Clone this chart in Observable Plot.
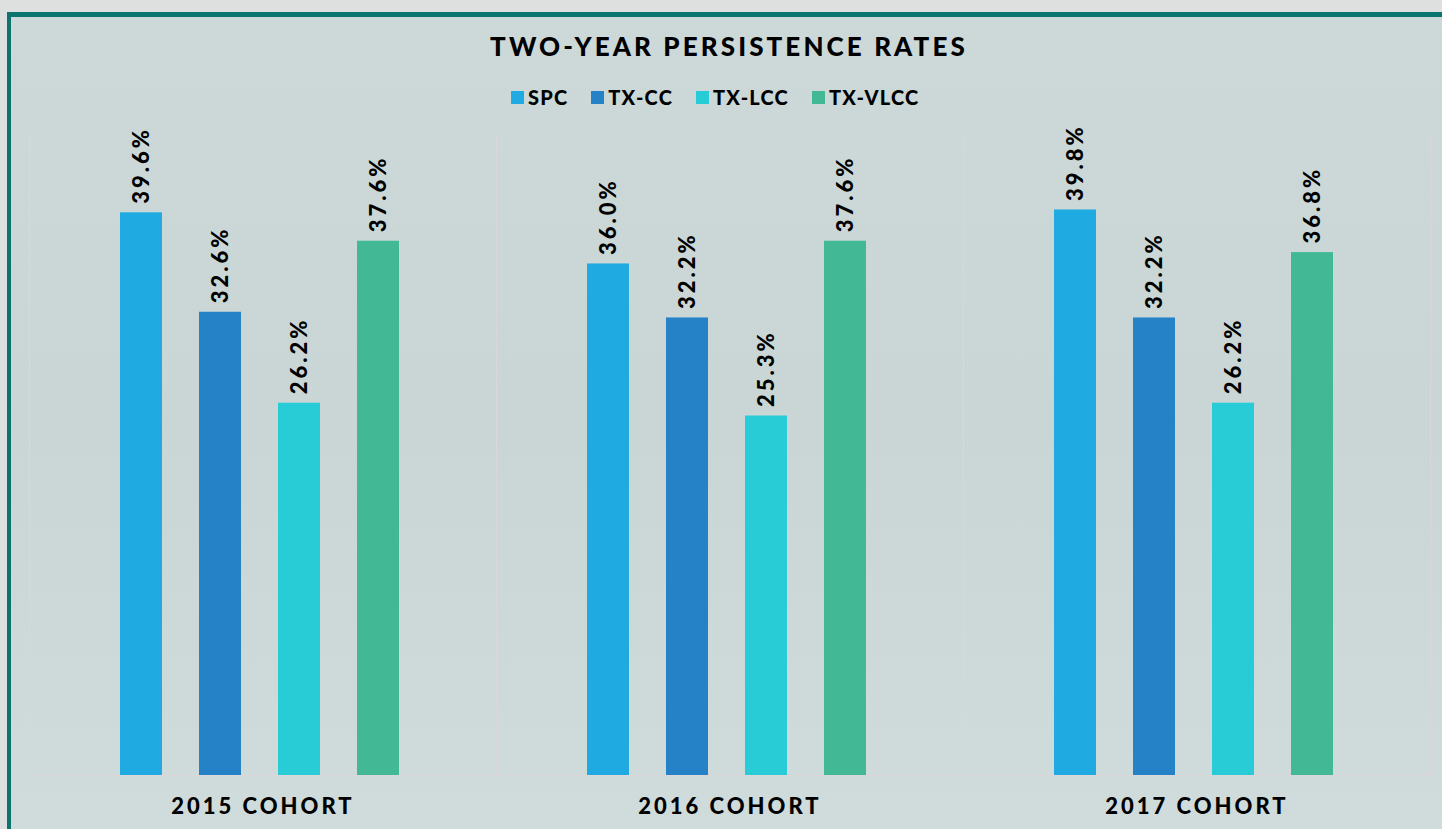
<!DOCTYPE html>
<html>
<head>
<meta charset="utf-8">
<script src="https://cdn.jsdelivr.net/npm/d3@7"></script>
<script src="https://cdn.jsdelivr.net/npm/@observablehq/plot@0.6"></script>
<style>
  html, body { margin: 0; padding: 0; }
  body { width: 1442px; height: 829px; overflow: hidden; position: relative;
         background: #dedfdf; font-family: Lato, "Open Sans", sans-serif; }
  #panel { position: absolute; left: 7px; top: 12px; right: 0; bottom: 0;
           border-top: 5px solid #0b746f; border-left: 4px solid #0b746f;
           background: linear-gradient(180deg, #ccd9d8 0%, #c9d6d5 50%, #cfdcdb 100%); }
  #title { position: absolute; left: 28px; width: 1402px; top: 31px; line-height: 30px;
           text-align: center; font-size: 26px; font-weight: 900; letter-spacing: 3.1px; color: #000; }
  #legend { position: absolute; left: 511px; top: 86px; display: flex; gap: 23px;
            font-size: 20px; font-weight: 900; letter-spacing: 1.2px; line-height: 22px; color: #000; }
  #legend span.item { display: flex; align-items: center; gap: 4px; }
  #legend span.sw { display: inline-block; width: 13px; height: 13px; }
  #chart { position: absolute; left: 0; top: 110px; }
</style>
</head>
<body>
<div id="panel"></div>
<div id="title">TWO-YEAR PERSISTENCE RATES</div>
<div id="legend"></div>
<div id="chart"></div>
<script>
const cohorts = ["2015 COHORT", "2016 COHORT", "2017 COHORT"];
const seriesNames = ["SPC", "TX-CC", "TX-LCC", "TX-VLCC"];
const seriesColors = ["#1faae2", "#2582c7", "#28ccd7", "#42b994"];
const SPC = [39.6, 36.0, 39.8];
const TXCC = [32.6, 32.2, 32.2];
const TXLCC = [26.2, 25.3, 26.2];
const TXVLCC = [37.6, 37.6, 36.8];
const seriesValues = [SPC, TXCC, TXLCC, TXVLCC];

const data = [];
cohorts.forEach((c, i) => {
  seriesNames.forEach((s, j) => {
    data.push({cohort: c, series: s, value: seriesValues[j][i]});
  });
});

// legend
const legend = document.getElementById("legend");
seriesNames.forEach((s, j) => {
  const item = document.createElement("span");
  item.className = "item";
  const sw = document.createElement("span");
  sw.className = "sw";
  sw.style.background = seriesColors[j];
  const t = document.createElement("span");
  t.textContent = s;
  item.appendChild(sw);
  item.appendChild(t);
  legend.appendChild(item);
});

const chart = Plot.plot({
  width: 1442,
  height: 719,
  marginLeft: 28,
  marginRight: 12,
  marginTop: 27,
  marginBottom: 54,
  style: {background: "transparent", fontFamily: "Lato, 'Open Sans', sans-serif", color: "#000", letterSpacing: "3px"},
  fx: {domain: cohorts, padding: 0, label: null},
  x: {domain: seriesNames, paddingInner: 0.473, paddingOuter: 1.168, align: 0.485, axis: null},
  y: {domain: [0, 44.9], axis: null},
  color: {domain: seriesNames, range: seriesColors},
  marks: [
    Plot.frame({anchor: "left", stroke: "#ddd6d9", strokeOpacity: 1}),
    Plot.frame({anchor: "right", stroke: "#ddd6d9", strokeOpacity: 1}),
    Plot.ruleY([0], {stroke: "#ddd6d9"}),
    Plot.barY(data, {fx: "cohort", x: "series", y: "value", fill: "series"}),
    Plot.text(data, {fx: "cohort", x: "series", y: "value",
      text: d => d.value.toFixed(1) + "%", rotate: -90, textAnchor: "start",
      dy: -9, fontSize: 22, fontWeight: 900, fill: "#000"}),
    Plot.axisFx({anchor: "bottom", tickSize: 0, tickPadding: 23, fontSize: 22, fontWeight: 900, label: null})
  ]
});
document.getElementById("chart").appendChild(chart);
</script>
</body>
</html>
